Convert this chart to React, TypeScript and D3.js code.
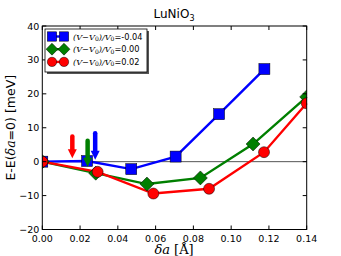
import React, { useEffect, useRef } from 'react';
import * as d3 from 'd3';

const W = 341;
const H = 256;

const blueX = [0, 0.0237, 0.0471, 0.0706, 0.0936, 0.1176];
const blueY = [0, 0.2, -2.2, 1.5, 14.0, 27.3];
const greenX = [0, 0.0283, 0.0554, 0.0837, 0.1116, 0.14];
const greenY = [0, -3.4, -6.6, -4.8, 5.2, 19.1];
const redX = [0, 0.0293, 0.0588, 0.0883, 0.1174, 0.14];
const redY = [0, -3.0, -9.4, -8.0, 2.8, 17.2];

// arrows: x, top, tip
const arrowX = [0.0159, 0.0240, 0.0280];
const arrowTop = [7.4, 6.2, 8.4];
const arrowTip = [1.0, -1.5, 0.6];
const arrowColors = ['#ff0000', '#007f00', '#0000ff'];

const xTicks = [0, 0.02, 0.04, 0.06, 0.08, 0.1, 0.12, 0.14];
const yTicks = [-20, -10, 0, 10, 20, 30, 40];

const legendVals = ['-0.04', '0.00', '0.02'];

const App = () => {
  const ref = useRef<SVGSVGElement>(null);

  useEffect(() => {
    const svg = d3.select(ref.current);
    svg.selectAll('*').remove();

    const left = 42.3, right = 306.7, top = 26, bottom = 229.5;
    const x = d3.scaleLinear().domain([0, 0.14]).range([left, right]);
    const y = d3.scaleLinear().domain([-20, 40]).range([bottom, top]);

    svg.append('rect').attr('width', W).attr('height', H).attr('fill', '#fff');

    // zero line
    svg.append('line')
      .attr('x1', left).attr('x2', right)
      .attr('y1', y(0)).attr('y2', y(0))
      .attr('stroke', '#555').attr('stroke-width', 1);

    const clip = svg.append('defs').append('clipPath').attr('id', 'clp');
    clip.append('rect').attr('x', left).attr('y', top).attr('width', right - left).attr('height', bottom - top);

    const line = d3.line<[number, number]>().x(d => x(d[0])).y(d => y(d[1]));
    const series = [
      { xs: blueX, ys: blueY, c: '#0000ff', m: 'square' },
      { xs: greenX, ys: greenY, c: '#007f00', m: 'diamond' },
      { xs: redX, ys: redY, c: '#ff0000', m: 'circle' },
    ];

    const g = svg.append('g');
    series.forEach(s => {
      const pts = s.xs.map((v, i) => [v, s.ys[i]] as [number, number]);
      g.append('path').datum(pts).attr('d', line)
        .attr('fill', 'none').attr('stroke', s.c).attr('stroke-width', 2.4);
    });

    const marker = (sel: any, m: string, cx: number, cy: number, c: string, k = 1) => {
      if (m === 'square') {
        const h = 5.5 * k;
        sel.append('rect').attr('x', cx - h).attr('y', cy - h).attr('width', 2 * h).attr('height', 2 * h)
          .attr('fill', c).attr('stroke', '#000').attr('stroke-width', 0.5);
      } else if (m === 'diamond') {
        const h = 7 * k;
        sel.append('path').attr('d', `M${cx},${cy - h}L${cx + h},${cy}L${cx},${cy + h}L${cx - h},${cy}Z`)
          .attr('fill', c).attr('stroke', '#000').attr('stroke-width', 0.5);
      } else {
        sel.append('circle').attr('cx', cx).attr('cy', cy).attr('r', 5.5 * k)
          .attr('fill', c).attr('stroke', '#000').attr('stroke-width', 0.5);
      }
    };

    const mg = svg.append('g').attr('clip-path', 'url(#clp)');
    series.forEach(s => {
      s.xs.forEach((v, i) => marker(mg, s.m, x(v), y(s.ys[i]), s.c));
    });

    // arrows
    arrowX.forEach((v, i) => {
      const ax = x(v), y0 = y(arrowTop[i]), y1 = y(arrowTip[i]);
      const headLen = 9;
      svg.append('line').attr('x1', ax).attr('x2', ax).attr('y1', y0).attr('y2', y1 - headLen + 1)
        .attr('stroke', arrowColors[i]).attr('stroke-width', 4.5).attr('stroke-linecap', 'round');
      svg.append('path').attr('d', `M${ax - 4.5},${y1 - headLen}L${ax + 4.5},${y1 - headLen}L${ax},${y1}Z`)
        .attr('fill', arrowColors[i]);
    });

    // frame
    svg.append('rect').attr('x', left).attr('y', top).attr('width', right - left).attr('height', bottom - top)
      .attr('fill', 'none').attr('stroke', '#000').attr('stroke-width', 1);

    // ticks
    const font = 'DejaVu Sans, sans-serif';
    xTicks.forEach(t => {
      svg.append('line').attr('x1', x(t)).attr('x2', x(t)).attr('y1', bottom).attr('y2', bottom - 4).attr('stroke', '#000');
      svg.append('line').attr('x1', x(t)).attr('x2', x(t)).attr('y1', top).attr('y2', top + 4).attr('stroke', '#000');
      svg.append('text').attr('x', x(t)).attr('y', bottom + 12).attr('text-anchor', 'middle')
        .attr('font-family', font).attr('font-size', 9.5).text(d3.format('.2f')(t));
    });
    yTicks.forEach(t => {
      svg.append('line').attr('x1', left).attr('x2', left + 4).attr('y1', y(t)).attr('y2', y(t)).attr('stroke', '#000');
      svg.append('line').attr('x1', right).attr('x2', right - 4).attr('y1', y(t)).attr('y2', y(t)).attr('stroke', '#000');
      svg.append('text').attr('x', left - 3).attr('y', y(t) + 3.5).attr('text-anchor', 'end')
        .attr('font-family', font).attr('font-size', 9.5).text(t < 0 ? '\u2212' + Math.abs(t) : String(t));
    });

    // title
    const title = svg.append('text').attr('x', 174).attr('y', 18).attr('text-anchor', 'middle')
      .attr('font-family', font).attr('font-size', 12);
    title.append('tspan').text('LuNiO');
    title.append('tspan').attr('font-size', 8).attr('dy', 3).text('3');

    // y label
    const yl = svg.append('text').attr('transform', `translate(15,${(top + bottom) / 2}) rotate(-90)`)
      .attr('text-anchor', 'middle').attr('font-family', font).attr('font-size', 12.5);
    yl.append('tspan').text('E-E(');
    yl.append('tspan').attr('font-family', 'DejaVu Serif, serif').attr('font-style', 'italic').text('δa');
    yl.append('tspan').text('=0) [meV]');

    // x label
    const xl = svg.append('text').attr('x', 174).attr('y', 254).attr('text-anchor', 'middle')
      .attr('font-family', 'DejaVu Serif, serif').attr('font-size', 13);
    xl.append('tspan').attr('font-style', 'italic').text('δa');
    xl.append('tspan').text(' [Å]');

    // legend
    const lg = svg.append('g');
    lg.append('rect').attr('x', 47).attr('y', 31).attr('width', 102).attr('height', 43).attr('fill', '#555');
    lg.append('rect').attr('x', 45).attr('y', 29).attr('width', 102).attr('height', 43)
      .attr('fill', '#fff').attr('stroke', '#000').attr('stroke-width', 0.8);
    series.forEach((s, i) => {
      const ly = 36.5 + i * 12.7;
      lg.append('line').attr('x1', 52).attr('x2', 64).attr('y1', ly).attr('y2', ly)
        .attr('stroke', s.c).attr('stroke-width', 2.4);
      marker(lg, s.m, 52, ly, s.c, 0.85);
      marker(lg, s.m, 64, ly, s.c, 0.85);
      const t = lg.append('text').attr('x', 73).attr('y', ly + 3).attr('font-size', 8.2)
        .attr('font-family', 'DejaVu Serif, serif');
      t.append('tspan').attr('font-style', 'italic').text('(V−V');
      t.append('tspan').attr('font-size', 6).attr('dy', 1.5).text('0');
      t.append('tspan').attr('font-style', 'italic').attr('dy', -1.5).text(')/V');
      t.append('tspan').attr('font-size', 6).attr('dy', 1.5).text('0');
      t.append('tspan').attr('dy', -1.5).attr('font-family', font).text('=' + legendVals[i]);
    });
  }, []);

  return <svg ref={ref} width={W} height={H} style={{ position: 'absolute', left: 0, top: 0 }} />;
};

export default App;
